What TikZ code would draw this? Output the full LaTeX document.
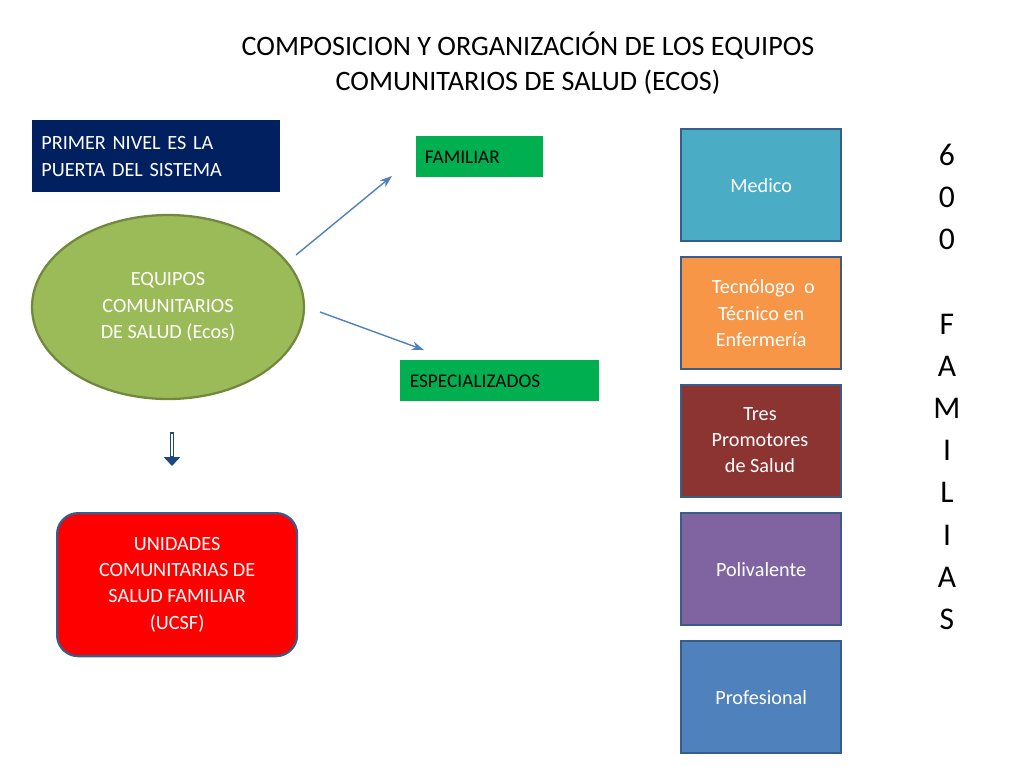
\documentclass[tikz,border=0pt]{standalone}
\usepackage{fontspec}
\setmainfont{Carlito}
\usetikzlibrary{shapes.geometric,arrows.meta}
\definecolor{bord}{HTML}{385D8A}
\definecolor{navy}{HTML}{002060}
\definecolor{grn}{HTML}{00B050}
\definecolor{olive}{HTML}{9BBB59}
\definecolor{oliveb}{HTML}{71893F}
\definecolor{darr}{HTML}{1F497D}
\definecolor{cmed}{HTML}{4BACC6}
\definecolor{ctec}{HTML}{F79646}
\definecolor{ctres}{HTML}{8C3432}
\definecolor{cpol}{HTML}{8064A2}
\definecolor{cprof}{HTML}{4F81BD}
\begin{document}
\begin{tikzpicture}[x=0.02cm,y=-0.02cm,
  sq/.style={draw=bord,line width=1.3pt,minimum width=3.2cm,minimum height=2.24cm,text=white,align=center,font=\fontsize{11.5}{15}\selectfont,anchor=north west},
  arr/.style={draw=cprof,line width=0.8pt,-{Stealth[length=7pt,width=5pt]}}]
\useasboundingbox (0,0) rectangle (1024,768);
\node[font=\fontsize{16}{20}\selectfont,align=center] (title) at (528,63) {COMPOSICION Y ORGANIZACIÓN DE LOS\ EQUIPOS\\COMUNITARIOS DE SALUD (ECOS)};
\node[fill=navy,text=white,anchor=north west,minimum width=4.96cm,minimum height=1.44cm,align=left,font=\fontsize{11.5}{15}\selectfont,text width=4.6cm] (primer) at (32,120) {PRIMER NIVEL ES LA PUERTA DEL SISTEMA};
\node[fill=grn,anchor=north west,minimum width=2.54cm,minimum height=0.82cm,font=\fontsize{11}{14}\selectfont,text width=2.2cm] (fam) at (416,136) {FAMILIAR};
\node[fill=grn,anchor=north west,minimum width=3.98cm,minimum height=0.82cm,font=\fontsize{11}{14}\selectfont,text width=3.6cm] (esp) at (400,360) {ESPECIALIZADOS};
\node[ellipse,draw=oliveb,line width=1.3pt,fill=olive,minimum width=5.44cm,minimum height=3.68cm,text=white,align=center,font=\fontsize{11.5}{15}\selectfont] (ecos) at (168,307) {EQUIPOS\\COMUNITARIOS\\DE SALUD (Ecos)};
\coordinate (a1s) at (296,255); \coordinate (a1e) at (392,176);
\coordinate (a2s) at (320,312); \coordinate (a2e) at (424,350);
\draw[arr] (a1s) -- (a1e);
\draw[arr] (a2s) -- (a2e);
\coordinate (d1) at (172,432); \coordinate (d2) at (172,466);
\draw[darr,line width=2.5pt,-{Triangle[length=5pt,width=9pt]}] (d1) -- (d2);
\draw[white,line width=0.7pt] (172,434) -- (172,456);
\node[rounded corners=12pt,draw=bord,line width=1.3pt,fill=red,anchor=north west,minimum width=4.8cm,minimum height=2.86cm,text=white,align=center,font=\fontsize{11.5}{15}\selectfont] (ucsf) at (56,512) {UNIDADES\\COMUNITARIAS DE\\SALUD FAMILIAR\\(UCSF)};
\node[sq,fill=cmed] (med) at (680,128) {Medico};
\node[sq,fill=ctec] (tec) at (680,256) {\ Tecnólogo\ \ o\\Técnico en\\Enfermería};
\node[sq,fill=ctres] (tres) at (680,384) {};
\node[text=white,align=center,font=\fontsize{11.5}{15}\selectfont] (trest) at (760,440) {Tres\\Promotores\\de Salud};
\node[sq,fill=cpol] (pol) at (680,512) {Polivalente};
\node[sq,fill=cprof] (prof) at (680,640) {Profesional};
\node[font=\fontsize{18}{24}\selectfont,align=center,anchor=north] (fams) at (947,138) {6\\0\\0\\[24pt]F\\A\\M\\I\\L\\I\\A\\S};
\end{tikzpicture}
\end{document}
